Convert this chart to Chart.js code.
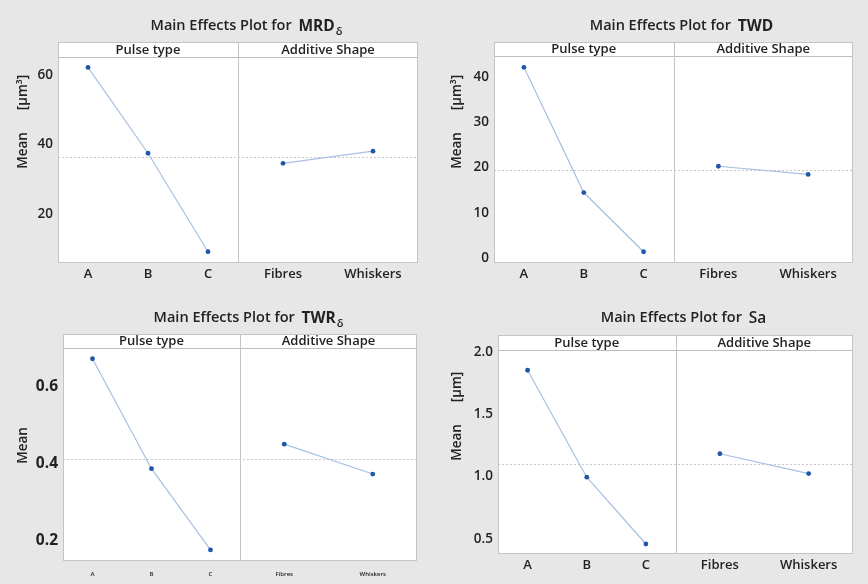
<!DOCTYPE html>
<html>
<head>
<meta charset="utf-8">
<script src="https://cdn.jsdelivr.net/npm/chart.js"></script>
<style>
  html, body { margin: 0; padding: 0; background: #e7e7e7; }
  #wrap { position: relative; width: 868px; height: 584px; overflow: hidden; }
  canvas { position: absolute; }
</style>
</head>
<body>
<div id="wrap">
  <canvas id="p1" width="434" height="292" style="left:0;top:0"></canvas>
  <canvas id="p2" width="434" height="292" style="left:434px;top:0"></canvas>
  <canvas id="p3" width="434" height="292" style="left:0;top:292px"></canvas>
  <canvas id="p4" width="434" height="292" style="left:434px;top:292px"></canvas>
</div>
<script>
const pulseTypes = ["A", "B", "C"];
const additiveShapes = ["Fibres", "Whiskers"];
const factorNames = ["Pulse type", "Additive Shape"];

// MRD_delta [um^3]
const mrdPulse = [62.2, 37.5, 9.15];
const mrdShape = [34.6, 38.1];
const mrdMean = 36.4;
const mrdTicks = [20, 40, 60];
const mrdTickLabels = ["20", "40", "60"];
const mrdRange = [5.9, 65.2];

// TWD [um^3]
const twdPulse = [42.1, 14.5, 1.45];
const twdShape = [20.3, 18.5];
const twdMean = 19.4;
const twdTicks = [0, 10, 20, 30, 40];
const twdTickLabels = ["0", "10", "20", "30", "40"];
const twdRange = [-1.03, 44.6];

// TWR_delta
const twrPulse = [0.674, 0.387, 0.175];
const twrShape = [0.451, 0.373];
const twrMean = 0.412;
const twrTicks = [0.2, 0.4, 0.6];
const twrTickLabels = ["0.2", "0.4", "0.6"];
const twrRange = [0.146, 0.702];

// Sa [um]
const saPulse = [1.852, 0.995, 0.46];
const saShape = [1.183, 1.024];
const saMean = 1.102;
const saTicks = [0.5, 1.0, 1.5, 2.0];
const saTickLabels = ["0.5", "1.0", "1.5", "2.0"];
const saRange = [0.38, 2.014];

const FONT = "'Open Sans', 'Noto Sans', sans-serif";
const W = 434, H = 292;

const panels = [
  { id: "p1", name: "MRD", sub: "δ", unit: "[µm³]", pulse: mrdPulse, shape: mrdShape, mean: mrdMean,
    ticks: mrdTicks, tickLabels: mrdTickLabels, range: mrdRange,
    box: { l: 58, r: 418, h: 42, t: 57, b: 263 }, yFont: 13.5, xFont: 13, nameWeight: "bold" },
  { id: "p2", name: "TWD", sub: "", unit: "[µm³]", pulse: twdPulse, shape: twdShape, mean: twdMean,
    ticks: twdTicks, tickLabels: twdTickLabels, range: twdRange,
    box: { l: 60, r: 419, h: 42, t: 56, b: 263 }, yFont: 13.5, xFont: 13, nameWeight: "bold" },
  { id: "p3", name: "TWR", sub: "δ", unit: "", pulse: twrPulse, shape: twrShape, mean: twrMean,
    ticks: twrTicks, tickLabels: twrTickLabels, range: twrRange,
    box: { l: 63, r: 417, h: 42, t: 56, b: 269 }, yFont: 15.5, xFont: 6, nameWeight: "bold" },
  { id: "p4", name: "Sa", sub: "", unit: "[µm]", pulse: saPulse, shape: saShape, mean: saMean,
    ticks: saTicks, tickLabels: saTickLabels, range: saRange,
    box: { l: 64, r: 419, h: 43, t: 58, b: 262 }, yFont: 13.5, xFont: 13, nameWeight: "600" }
];

// x layout: pulse levels share the left half (0..3), shape levels the right half (3..6)
const pulseX = i => i + 0.5;
const shapeX = i => 3 + (i + 0.5) * 1.5;

const framePlugin = {
  id: "frame",
  beforeDatasetsDraw(chart, args, opts) {
    const ctx = chart.ctx, a = chart.chartArea, p = opts.panel;
    const xs = chart.scales.x, ys = chart.scales.y;
    const mid = xs.getPixelForValue(3);
    ctx.save();
    ctx.fillStyle = "#ffffff";
    ctx.fillRect(a.left, p.box.h, a.right - a.left, a.bottom - p.box.h);
    // header strip line
    ctx.strokeStyle = "#bdbdbd";
    ctx.lineWidth = 1;
    ctx.beginPath();
    ctx.moveTo(a.left, a.top + 0.5); ctx.lineTo(a.right, a.top + 0.5);
    ctx.stroke();
    // divider
    ctx.strokeStyle = "#c4c4c4";
    ctx.beginPath();
    ctx.moveTo(Math.round(mid) + 0.5, p.box.h); ctx.lineTo(Math.round(mid) + 0.5, a.bottom);
    ctx.stroke();
    // grand mean reference
    const my = Math.round(ys.getPixelForValue(p.mean)) + 0.5;
    ctx.strokeStyle = "#c8c8c8";
    ctx.setLineDash([2, 2]);
    ctx.beginPath();
    ctx.moveTo(a.left, my); ctx.lineTo(a.right, my);
    ctx.stroke();
    ctx.restore();
  },
  afterDraw(chart, args, opts) {
    const ctx = chart.ctx, a = chart.chartArea, p = opts.panel;
    const xs = chart.scales.x;
    ctx.save();
    // outer frame
    ctx.strokeStyle = "#c4c4c4";
    ctx.lineWidth = 1;
    ctx.strokeRect(a.left + 0.5, p.box.h + 0.5, a.right - a.left - 1, a.bottom - p.box.h - 1);

    // header labels
    ctx.fillStyle = "#222";
    ctx.font = "600 13px " + FONT;
    ctx.textAlign = "center";
    ctx.textBaseline = "middle";
    const hy = (p.box.h + a.top) / 2 + 0.5;
    ctx.fillText(factorNames[0], xs.getPixelForValue(1.5), hy);
    ctx.fillText(factorNames[1], xs.getPixelForValue(4.5), hy);

    // title
    const pre = "Main Effects Plot for ";
    ctx.textBaseline = "alphabetic";
    ctx.textAlign = "left";
    const f1 = "600 14.5px " + FONT, f2 = p.nameWeight + " 15.5px " + FONT, f3 = "600 11px " + FONT;
    ctx.font = f1; const w1 = ctx.measureText(pre).width + 3;
    ctx.font = f2; const w2 = ctx.measureText(p.name).width;
    ctx.font = f3; const w3 = p.sub ? ctx.measureText(p.sub).width : 0;
    let x0 = (a.left + a.right) / 2 + 8 - (w1 + w2 + w3) / 2;
    ctx.fillStyle = "#222";
    ctx.font = f1; ctx.fillText(pre, x0, 30);
    ctx.font = f2; ctx.fillText(p.name, x0 + w1, 31);
    if (p.sub) { ctx.font = f3; ctx.fillText(p.sub, x0 + w1 + w2 + 1, 35); }

    // y axis label
    ctx.translate(23, (p.box.h + a.bottom) / 2 - 2);
    ctx.rotate(-Math.PI / 2);
    ctx.font = "600 13.5px " + FONT;
    ctx.textBaseline = "middle";
    ctx.textAlign = "center";
    ctx.fillText("Mean", 0, 0);
    if (p.unit) {
      const mw = ctx.measureText("Mean").width;
      ctx.textAlign = "left";
      ctx.fillText(p.unit, mw / 2 + 22, 0);
    }
    ctx.restore();
  }
};

function makePanel(p) {
  const pulseData = p.pulse.map((v, i) => ({ x: pulseX(i), y: v }));
  const shapeData = p.shape.map((v, i) => ({ x: shapeX(i), y: v }));
  const xTickPos = pulseTypes.map((_, i) => pulseX(i)).concat(additiveShapes.map((_, i) => shapeX(i)));
  const xTickLabels = pulseTypes.concat(additiveShapes);
  const ds = data => ({
    data,
    borderColor: "#a7bfe4",
    borderWidth: 1.2,
    pointRadius: 2.4,
    pointBorderWidth: 0,
    pointBackgroundColor: "#1f56a8",
    pointHoverRadius: 2.4,
    tension: 0
  });
  new Chart(document.getElementById(p.id), {
    type: "line",
    data: { datasets: [ds(pulseData), ds(shapeData)] },
    plugins: [framePlugin],
    options: {
      responsive: false,
      animation: false,
      events: [],
      layout: { padding: { top: p.box.t, right: W - p.box.r, left: 0, bottom: 0 } },
      plugins: {
        legend: { display: false },
        tooltip: { enabled: false },
        frame: { panel: p }
      },
      scales: {
        x: {
          type: "linear",
          min: 0, max: 6,
          grid: { display: false, drawTicks: false },
          border: { display: false },
          afterBuildTicks: s => { s.ticks = xTickPos.map(v => ({ value: v })); },
          afterFit: s => { s.height = H - p.box.b; },
          ticks: {
            autoSkip: false,
            maxRotation: 0,
            padding: p.xFont < 10 ? 10 : 3,
            color: "#222",
            font: { family: FONT, size: p.xFont, weight: "600" },
            callback: (v) => xTickLabels[xTickPos.indexOf(v)]
          }
        },
        y: {
          min: p.range[0], max: p.range[1],
          grid: { display: false, drawTicks: false },
          border: { display: false },
          afterBuildTicks: s => { s.ticks = p.ticks.map(v => ({ value: v })); },
          afterFit: s => { s.width = p.box.l; },
          ticks: {
            padding: 5,
            color: "#222",
            font: { family: FONT, size: p.yFont, weight: p.yFont > 14 ? "bold" : "600" },
            callback: (v) => p.tickLabels[p.ticks.indexOf(v)]
          }
        }
      }
    }
  });
}

panels.forEach(makePanel);
</script>
</body>
</html>
